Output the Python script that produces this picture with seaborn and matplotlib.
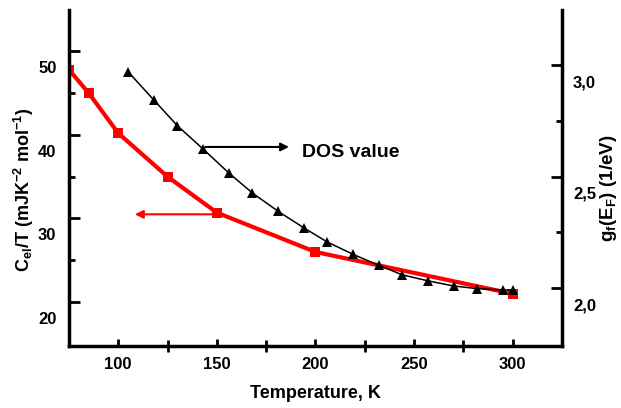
import numpy as np
import matplotlib
matplotlib.use("Agg")
import matplotlib.pyplot as plt
import matplotlib.transforms as mtransforms
from matplotlib.ticker import FixedLocator
import seaborn as sns

# red curve, left axis: C_el/T
temp_cel = [75, 85, 100, 125, 150, 200, 300]
cel_over_t = [47.8, 45.0, 40.2, 35.0, 30.7, 26.0, 21.0]

# black curve, right axis: DOS value g_f(E_F)
temp_dos = [105, 118, 130, 143, 156, 168, 181, 194, 206, 219, 232, 244, 257, 270, 282, 295, 300]
dos_value = [2.970, 2.844, 2.728, 2.624, 2.517, 2.427, 2.345, 2.271, 2.207, 2.152,
             2.103, 2.060, 2.033, 2.010, 1.998, 1.992, 1.992]

x_ticks = [100, 150, 200, 250, 300]
left_ticks = [20, 30, 40, 50]
right_ticks = [2.0, 2.5, 3.0]
right_labels = ["2,0", "2,5", "3,0"]

sns.set_style("ticks")
plt.rcParams["font.family"] = ["Liberation Sans", "DejaVu Sans"]
plt.rcParams["font.weight"] = "bold"
plt.rcParams["mathtext.fontset"] = "custom"
plt.rcParams["mathtext.rm"] = "Liberation Sans:bold"
plt.rcParams["mathtext.bf"] = "Liberation Sans:bold"
plt.rcParams["mathtext.default"] = "bf"
for key in ["text.color", "axes.labelcolor", "axes.edgecolor", "xtick.color", "ytick.color"]:
    plt.rcParams[key] = "black"

fig = plt.figure(figsize=(6.21, 4.08), dpi=100)
ax = fig.add_axes([0.111, 0.152, 0.794, 0.823])
ax2 = ax.twinx()

sns.lineplot(x=temp_cel, y=cel_over_t, ax=ax, color="red", linewidth=3,
             marker="s", markersize=7, markeredgewidth=0, zorder=2)
sns.lineplot(x=temp_dos, y=dos_value, ax=ax2, color="black", linewidth=1.1,
             marker="^", markersize=7.5, markeredgewidth=0, zorder=3)

ax.set_xlim(75, 325)
ax.set_ylim(14.76, 54.9)
ax2.set_ylim(1.741, 3.246)

for a in (ax, ax2):
    a.spines["top"].set_visible(False)
    for s in a.spines.values():
        s.set_linewidth(2.5)
ax.spines["right"].set_visible(False)
ax2.spines["left"].set_visible(False)
ax2.spines["bottom"].set_visible(False)

ax.xaxis.set_major_locator(FixedLocator(x_ticks))
ax.xaxis.set_minor_locator(FixedLocator([125, 175, 225, 275]))
ax.yaxis.set_major_locator(FixedLocator(left_ticks))
ax.yaxis.set_minor_locator(FixedLocator([25, 35, 45]))
ax2.yaxis.set_major_locator(FixedLocator(right_ticks))
ax2.yaxis.set_minor_locator(FixedLocator([2.25, 2.75]))
ax2.set_yticklabels(right_labels)

ax.tick_params(axis="x", which="major", direction="in", length=5, width=2, pad=8, labelsize=12)
ax.tick_params(axis="x", which="minor", direction="inout", length=8, width=2)
ax.tick_params(axis="y", which="major", direction="in", length=8, width=2, pad=9, labelsize=12)
ax.tick_params(axis="y", which="minor", direction="in", length=4, width=2)
ax2.tick_params(axis="y", which="major", direction="in", length=8, width=2, pad=8, labelsize=12)
ax2.tick_params(axis="y", which="minor", direction="in", length=4, width=2)

# tick labels on the y axes sit below their tick marks in the original
shift = mtransforms.ScaledTranslation(0, -16 / 100, fig.dpi_scale_trans)
for lab in ax.get_yticklabels() + ax2.get_yticklabels():
    lab.set_transform(lab.get_transform() + shift)
    lab.set_fontweight("bold")
for lab in ax.get_xticklabels():
    lab.set_fontweight("bold")

ax.set_xlabel("Temperature, K", fontsize=13, fontweight="bold", labelpad=9)
ax.set_ylabel(r"C$_{el}$/T (mJK$^{-2}$ mol$^{-1}$)", fontsize=13, fontweight="bold")
ax2.set_ylabel(r"g$_{f}$(E$_{F}$) (1/eV)", fontsize=13.5, fontweight="bold")
ax.yaxis.set_label_coords(-0.066, 0.464)
ax2.yaxis.set_label_coords(1.074, 0.47)

ax.annotate("", xy=(107, 30.5), xytext=(150.5, 30.5),
            arrowprops=dict(arrowstyle="-|>", color="red", lw=1.5, mutation_scale=12))
ax2.annotate("", xy=(188, 2.633), xytext=(142.8, 2.633),
             arrowprops=dict(arrowstyle="-|>", color="black", lw=1.5, mutation_scale=12))
ax2.text(193, 2.607, "DOS value", fontsize=14, fontweight="bold", ha="left", va="center")

fig.savefig("out.png", dpi=100)
